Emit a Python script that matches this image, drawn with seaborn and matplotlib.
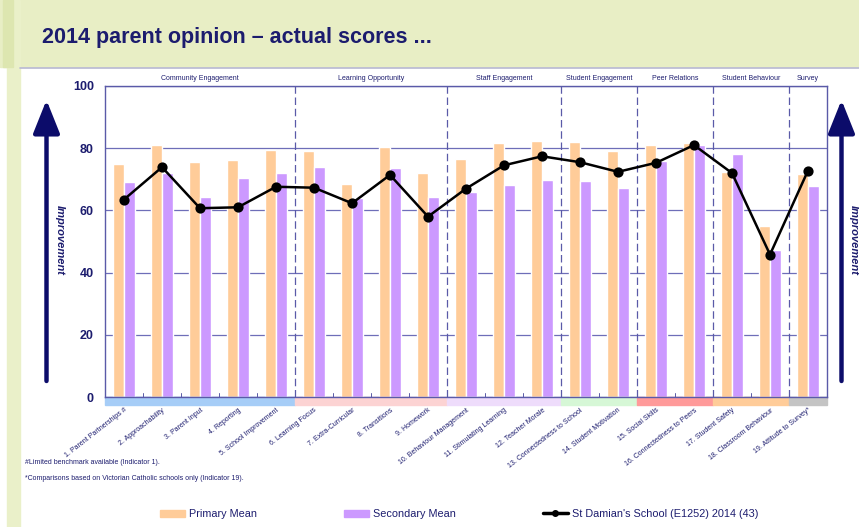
import numpy as np
import pandas as pd
import matplotlib
matplotlib.use("Agg")
import matplotlib.pyplot as plt
from matplotlib.patches import Rectangle, Patch, FancyArrowPatch
from matplotlib.lines import Line2D
import matplotlib.transforms as mtransforms
import seaborn as sns

sns.set_style("white")
plt.rcParams["font.family"] = ["Liberation Sans", "DejaVu Sans"]

# data
indicators = ["1. Parent Partnerships #", "2. Approachability", "3. Parent Input",
              "4. Reporting", "5. School Improvement", "6. Learning Focus",
              "7. Extra-Curricular", "8. Transitions", "9. Homework",
              "10. Behaviour Management", "11. Stimulating Learning", "12. Teacher Morale",
              "13. Connectedness to School", "14. Student Motivation", "15. Social Skills",
              "16. Connectedness to Peers", "17. Student Safety", "18. Classroom Behaviour",
              "19. Attitude to Survey*"]
primary = [75.0, 81.0, 75.7, 76.1, 79.5, 79.2, 68.5, 80.5, 72.0, 76.5,
           81.8, 82.4, 82.0, 79.2, 81.0, 81.8, 72.3, 55.0, 71.8]
secondary = [69.1, 72.0, 64.4, 70.5, 72.0, 74.0, 64.0, 73.5, 64.2, 66.0,
             68.1, 69.7, 69.6, 67.2, 75.8, 81.0, 78.1, 47.2, 67.8]
school = [63.5, 73.9, 60.7, 61.0, 67.6, 67.3, 62.3, 71.4, 58.0, 67.0,
          74.5, 77.4, 75.5, 72.4, 75.3, 81.0, 72.0, 45.8, 72.8]
groups = ["Community Engagement", "Learning Opportunity", "Staff Engagement",
          "Student Engagement", "Peer Relations", "Student Behaviour", "Survey"]
group_sizes = [5, 4, 3, 2, 2, 2, 1]
group_colors = ["#a6cdf7", "#fcd3d3", "#eedcfb", "#d6f7d6", "#ff9a9a", "#ffcc99", "#c4c4c4"]

navy = "#1c1c6e"
axcol = "#5a5aa8"
primary_col = "#ffcc99"
secondary_col = "#cc99ff"

df = pd.DataFrame({
    "indicator": indicators * 2,
    "score": primary + secondary,
    "series": ["Primary Mean"] * len(indicators) + ["Secondary Mean"] * len(indicators),
})

fig = plt.figure(figsize=(8.59, 5.27), dpi=100)
W, H = 859, 527

# header band + left strip
fig.add_artist(Rectangle((0, 1 - 67 / H), 1, 67 / H, transform=fig.transFigure,
                         color="#e8eec5", zorder=0))
fig.add_artist(Rectangle((7 / W, 0), 13 / W, 1, transform=fig.transFigure,
                         color="#eaf0c9", zorder=0))
fig.add_artist(Rectangle((3 / W, 1 - 67 / H), 10 / W, 67 / H, transform=fig.transFigure,
                         color="#dde6b0", zorder=0))
fig.add_artist(Line2D([20 / W, 1], [1 - 68 / H] * 2, transform=fig.transFigure,
                      color="#b8b8d4", lw=1.2))
fig.text(42 / W, 1 - 38 / H, "2014 parent opinion \u2013 actual scores ...",
         fontsize=15.5, fontweight="bold", color=navy, va="center", ha="left")

ax = fig.add_axes([105 / W, 1 - 397 / H, 722 / W, 311 / H])
sns.barplot(data=df, x="indicator", y="score", hue="series",
            palette=[primary_col, secondary_col], width=0.6, gap=0,
            saturation=1, ax=ax, legend=False)
sns.pointplot(x=indicators, y=school, color="black", markers="o",
              markersize=6, linewidth=1.8, ax=ax)

ax.set_xlim(-0.5, len(indicators) - 0.5)
ax.set_ylim(0, 100)
ax.set_yticks([0, 20, 40, 60, 80, 100])
ax.set_axisbelow(True)
ax.yaxis.grid(True, color="#6e6eb8", lw=0.9)
ax.set_xlabel("")
ax.set_ylabel("")
for s in ax.spines.values():
    s.set_color(axcol)
    s.set_linewidth(1.0)
ax.tick_params(axis="y", colors=axcol, length=4, width=0.9, labelsize=9,
               labelcolor=navy, pad=4)
for t in ax.get_yticklabels():
    t.set_fontweight("bold")

ax.set_xticks(range(len(indicators)))
ax.set_xticklabels(indicators, rotation=38, ha="right", va="top",
                   rotation_mode="anchor", fontsize=5, color=navy)
ax.tick_params(axis="x", length=0, pad=7)

# group separators, group labels and coloured strips
trans = mtransforms.blended_transform_factory(ax.transData, ax.transAxes)
start = 0
for g, n, c in zip(groups, group_sizes, group_colors):
    left = start - 0.5
    ax.add_patch(Rectangle((left, -0.027), n, 0.027, transform=trans,
                           color=c, clip_on=False, zorder=1))
    ax.text(left + n / 2, 1.025, g, transform=trans, ha="center", va="center",
            fontsize=5, color=navy)
    if start > 0:
        ax.axvline(left, color=axcol, lw=0.9, ls=(0, (6, 3)), zorder=1)
    start += n
for b in np.arange(0.5, len(indicators) - 0.5, 1.0):
    ax.plot([b, b], [0, 0.012], transform=trans, color=axcol, lw=0.7, clip_on=False)

# improvement arrows
for x, tx in [(46.5, 60), (841.5, 854)]:
    arr = FancyArrowPatch((x / W, 1 - 381 / H), (x / W, 1 - 100 / H),
                          transform=fig.transFigure,
                          arrowstyle="-|>,head_width=0.34,head_length=0.85",
                          mutation_scale=24, lw=3.2, color="#0c0c6a",
                          shrinkA=0, shrinkB=0)
    fig.add_artist(arr)
    fig.text(tx / W, 1 - 240 / H, "Improvement", rotation=-90, fontsize=8,
             fontstyle="italic", fontweight="bold", color=navy,
             ha="center", va="center")

# footnotes
fig.text(25 / W, 1 - 463 / H, "#Limited benchmark available (Indicator 1).",
         fontsize=5, color=navy, va="center")
fig.text(25 / W, 1 - 478 / H, "*Comparisons based on Victorian Catholic schools only (Indicator 19).",
         fontsize=5, color=navy, va="center")

# legend
handles = [Patch(color=primary_col, label="Primary Mean"),
           Patch(color=secondary_col, label="Secondary Mean"),
           Line2D([], [], color="black", lw=2.5, marker="o", markersize=4,
                  label="St Damian's School (E1252) 2014 (43)")]
leg = fig.legend(handles=handles, loc="center left", bbox_to_anchor=(160 / W, 1 - 514 / H),
                 ncol=3, frameon=False, fontsize=7.8, handlelength=2.3, handleheight=0.6,
                 handletextpad=0.4, columnspacing=8.0, borderpad=0, borderaxespad=0)
for t in leg.get_texts():
    t.set_color(navy)

fig.savefig("out.png", dpi=100, facecolor="white")
